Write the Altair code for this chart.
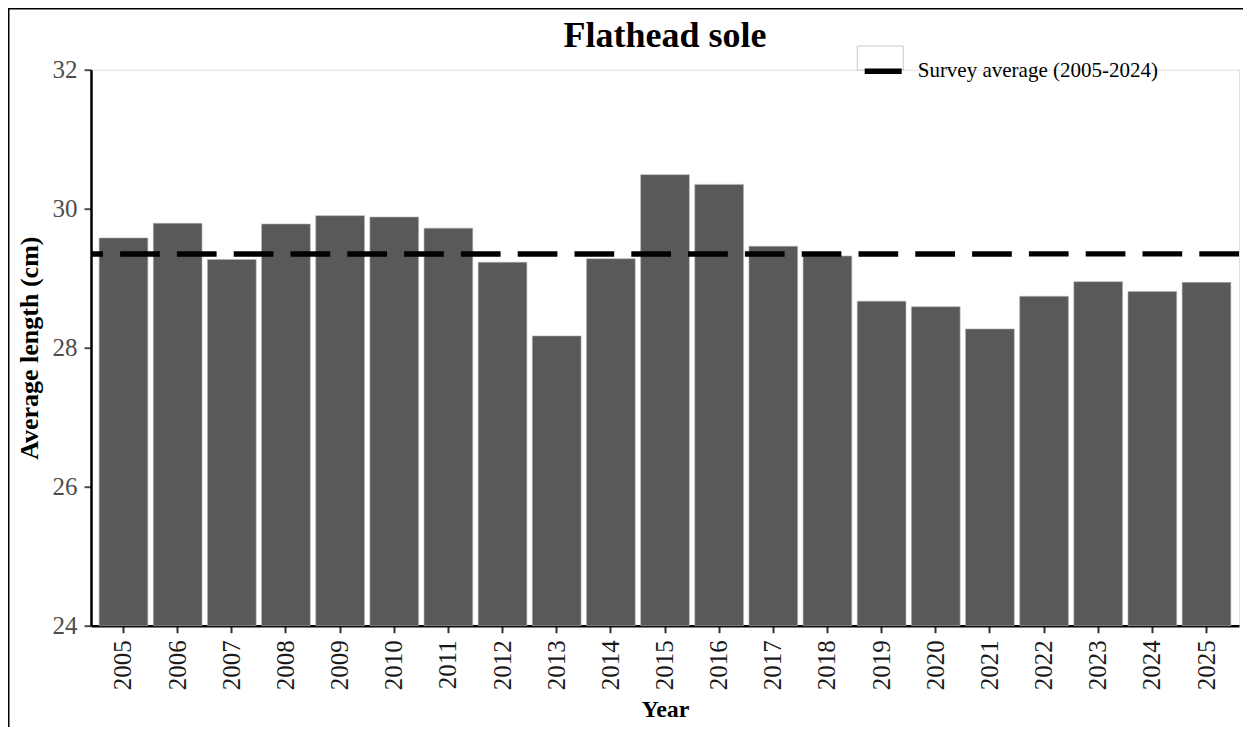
import altair as alt
import pandas as pd

# ---- data ----
years = ["2005", "2006", "2007", "2008", "2009", "2010", "2011", "2012", "2013", "2014",
         "2015", "2016", "2017", "2018", "2019", "2020", "2021", "2022", "2023", "2024", "2025"]
lengths = [29.58, 29.79, 29.27, 29.78, 29.90, 29.88, 29.72, 29.23, 28.17, 29.28,
           30.49, 30.35, 29.46, 29.32, 28.67, 28.59, 28.27, 28.74, 28.95, 28.81, 28.94]
survey_avg = 29.35
legend_label = "Survey average (2005-2024)"
y_ticks = [24, 26, 28, 30, 32]
y_domain = [24, 32]

FONT = "Liberation Serif"
W, H = 1148, 556
PL, PT, PR, PB = 83, 61.7, 4, 101.3
TOTAL_W = PL + W + PR
TOTAL_H = PT + H + PB

df = pd.DataFrame({"Year": years, "Length": lengths})
avg_df = pd.DataFrame({"Length": [survey_avg], "label": [legend_label]})

x_enc = alt.X(
    "Year:N", sort=years,
    scale=alt.Scale(paddingInner=0.1, paddingOuter=0.15),
    axis=alt.Axis(
        title="Year", labelAngle=-90, labelFont=FONT, labelFontSize=25,
        labelColor="#1a1a1a", labelPadding=7, tickSize=7, tickWidth=2,
        tickColor="#333333", domainColor="black", domainWidth=2.5, grid=False,
        titleFont=FONT, titleFontSize=24, titleFontWeight="bold", titleColor="black",
        titleX=W / 2, titleY=91, titleBaseline="alphabetic", titleAlign="center",
    ),
)
y_scale = alt.Scale(domain=y_domain, nice=False, zero=False)
y_axis = alt.Axis(
    title="Average length (cm)", values=y_ticks, labelFont=FONT, labelFontSize=25,
    labelColor="#4d4d4d", labelPadding=7, tickSize=7, tickWidth=2,
    tickColor="#4d4d4d", domainColor="black", domainWidth=2.5, grid=False,
    titleFont=FONT, titleFontSize=26, titleFontWeight="bold", titleColor="black",
    titleAngle=270, titleX=-53.5, titleY=H / 2, titleBaseline="alphabetic",
    titleAlign="center",
)

bars = alt.Chart(df).mark_bar(color="#595959", stroke="#b5b5b5", strokeWidth=0.6).encode(
    x=x_enc,
    y=alt.Y("Length:Q", scale=y_scale, axis=y_axis),
    y2=alt.Y2Datum(24),
)

rule = alt.Chart(avg_df).mark_rule(
    strokeWidth=5.5, strokeDash=[39.7, 17.1], strokeCap="butt"
).encode(
    y=alt.Y("Length:Q", scale=y_scale, axis=y_axis),
    color=alt.Color(
        "label:N",
        scale=alt.Scale(domain=[legend_label], range=["black"]),
        legend=alt.Legend(
            title=None, orient="none", legendX=770.7, legendY=-20,
            symbolType="stroke", symbolStrokeWidth=5.5, symbolSize=1369,
            symbolDash=[1, 0], labelFont=FONT, labelFontSize=21, labelColor="black",
            labelOffset=13, labelLimit=0, padding=0,
        ),
    ),
)

# legend key box (decoration)
key_box = alt.Chart(avg_df).mark_rect(fill="white", stroke="#c8c8c8", strokeWidth=1).encode(
    x=alt.value(766.3), x2=alt.value(812.3), y=alt.value(-23.7), y2=alt.value(0.3)
)

# outer frame (top and left edges)
frame_top = alt.Chart(avg_df).mark_rule(color="black", strokeWidth=1.5).encode(
    x=alt.value(-PL), x2=alt.value(TOTAL_W - PL), y=alt.value(-PT + 0.75)
)
frame_left = alt.Chart(avg_df).mark_rule(color="black", strokeWidth=1.5).encode(
    x=alt.value(-PL + 0.75), y=alt.value(-PT), y2=alt.value(TOTAL_H - PT)
)

chart = alt.layer(key_box, bars, rule, frame_top, frame_left).properties(
    width=W, height=H,
    title=alt.TitleParams(
        "Flathead sole", font=FONT, fontSize=36, fontWeight="bold", color="black",
        anchor="middle", frame="group", offset=23, dy=99, baseline="alphabetic",
    ),
    autosize=alt.AutoSizeParams(type="none"),
    padding={"left": PL, "top": PT, "right": PR, "bottom": PB},
).configure_view(
    stroke="#d9d9d9", strokeWidth=1
).configure(background="white")

chart.save("out.html", embed_options={"renderer": "svg", "actions": False})
